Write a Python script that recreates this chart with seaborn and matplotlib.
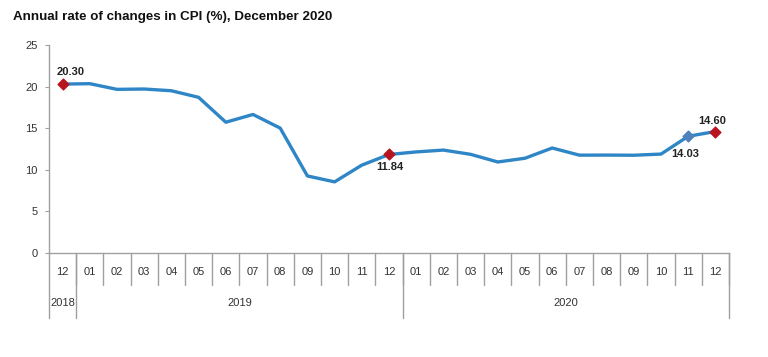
import matplotlib
matplotlib.use("Agg")
import matplotlib.pyplot as plt
import seaborn as sns
import pandas as pd

# data
months = ["12", "01", "02", "03", "04", "05", "06", "07", "08", "09", "10", "11", "12",
          "01", "02", "03", "04", "05", "06", "07", "08", "09", "10", "11", "12"]
years = ["2018", "2019", "2020"]
year_counts = [1, 12, 12]
cpi = [20.30, 20.35, 19.67, 19.71, 19.50, 18.71, 15.72, 16.65, 15.01, 9.26, 8.55, 10.56, 11.84,
       12.15, 12.37, 11.86, 10.94, 11.39, 12.62, 11.76, 11.77, 11.75, 11.89, 14.03, 14.60]
red_points = [0, 12, 24]
blue_points = [23]

df = pd.DataFrame({"pos": range(len(cpi)), "cpi": cpi})

sns.set_style("white")
plt.rcParams["font.family"] = ["Liberation Sans", "DejaVu Sans"]

fig = plt.figure(figsize=(7.68, 3.57), dpi=100)
ax = fig.add_axes([49 / 768, 1 - 253 / 357, 680 / 768, 208 / 357])

sns.lineplot(data=df, x="pos", y="cpi", ax=ax, color="#2f86c6", linewidth=2.4)

# highlighted points
ax.scatter(df["pos"][red_points], df["cpi"][red_points], marker="D", s=30,
           color="#b8141f", zorder=5)
ax.scatter(df["pos"][blue_points], df["cpi"][blue_points], marker="D", s=30,
           color="#4f81bd", zorder=5)

# value labels
lab_style = dict(fontsize=8, fontweight="bold", color="#222222",
                 textcoords="offset pixels", ha="center", va="center")
ax.annotate(f"{cpi[0]:.2f}", (0, cpi[0]), xytext=(8, 12), **lab_style)
ax.annotate(f"{cpi[12]:.2f}", (12, cpi[12]), xytext=(1, -13), **lab_style)
ax.annotate(f"{cpi[23]:.2f}", (23, cpi[23]), xytext=(-3, -18), **lab_style)
ax.annotate(f"{cpi[24]:.2f}", (24, cpi[24]), xytext=(-3, 11), **lab_style)

ax.set_xlim(-0.5, len(cpi) - 0.5)
ax.set_ylim(0, 25)
ax.set_yticks([0, 5, 10, 15, 20, 25])
ax.set_xticks([])
ax.set_xlabel("")
ax.set_ylabel("")
ax.tick_params(axis="y", labelsize=8, labelcolor="#333333", left=True,
               length=3, color="#a0a0a0", pad=5)

for s in ["top", "right"]:
    ax.spines[s].set_visible(False)
for s in ["left", "bottom"]:
    ax.spines[s].set_color("#a0a0a0")
    ax.spines[s].set_linewidth(1)

trans = ax.get_xaxis_transform()
grey = "#a0a0a0"
month_bottom = -32 / 208
year_bottom = -65 / 208

# month row
for i, m in enumerate(months):
    ax.text(i, -19 / 208, m, transform=trans, ha="center", va="center",
            fontsize=8, color="#333333")
for i in range(1, len(months) + 1):
    ax.plot([i - 0.5, i - 0.5], [0, month_bottom], transform=trans,
            color=grey, lw=1, clip_on=False)

# year row
start = 0
edges = [-0.5]
for y, n in zip(years, year_counts):
    ax.text(start + (n - 1) / 2, -50 / 208, y, transform=trans, ha="center",
            va="center", fontsize=8, color="#333333")
    start += n
    edges.append(start - 0.5)
for e in edges:
    ax.plot([e, e], [0, year_bottom], transform=trans, color=grey, lw=1,
            clip_on=False)

fig.text(13 / 768, 1 - 17 / 357, "Annual rate of changes in CPI (%), December 2020",
         fontsize=9.6, fontweight="bold", ha="left", va="center", color="#111111")

fig.savefig("out.png", dpi=100)
